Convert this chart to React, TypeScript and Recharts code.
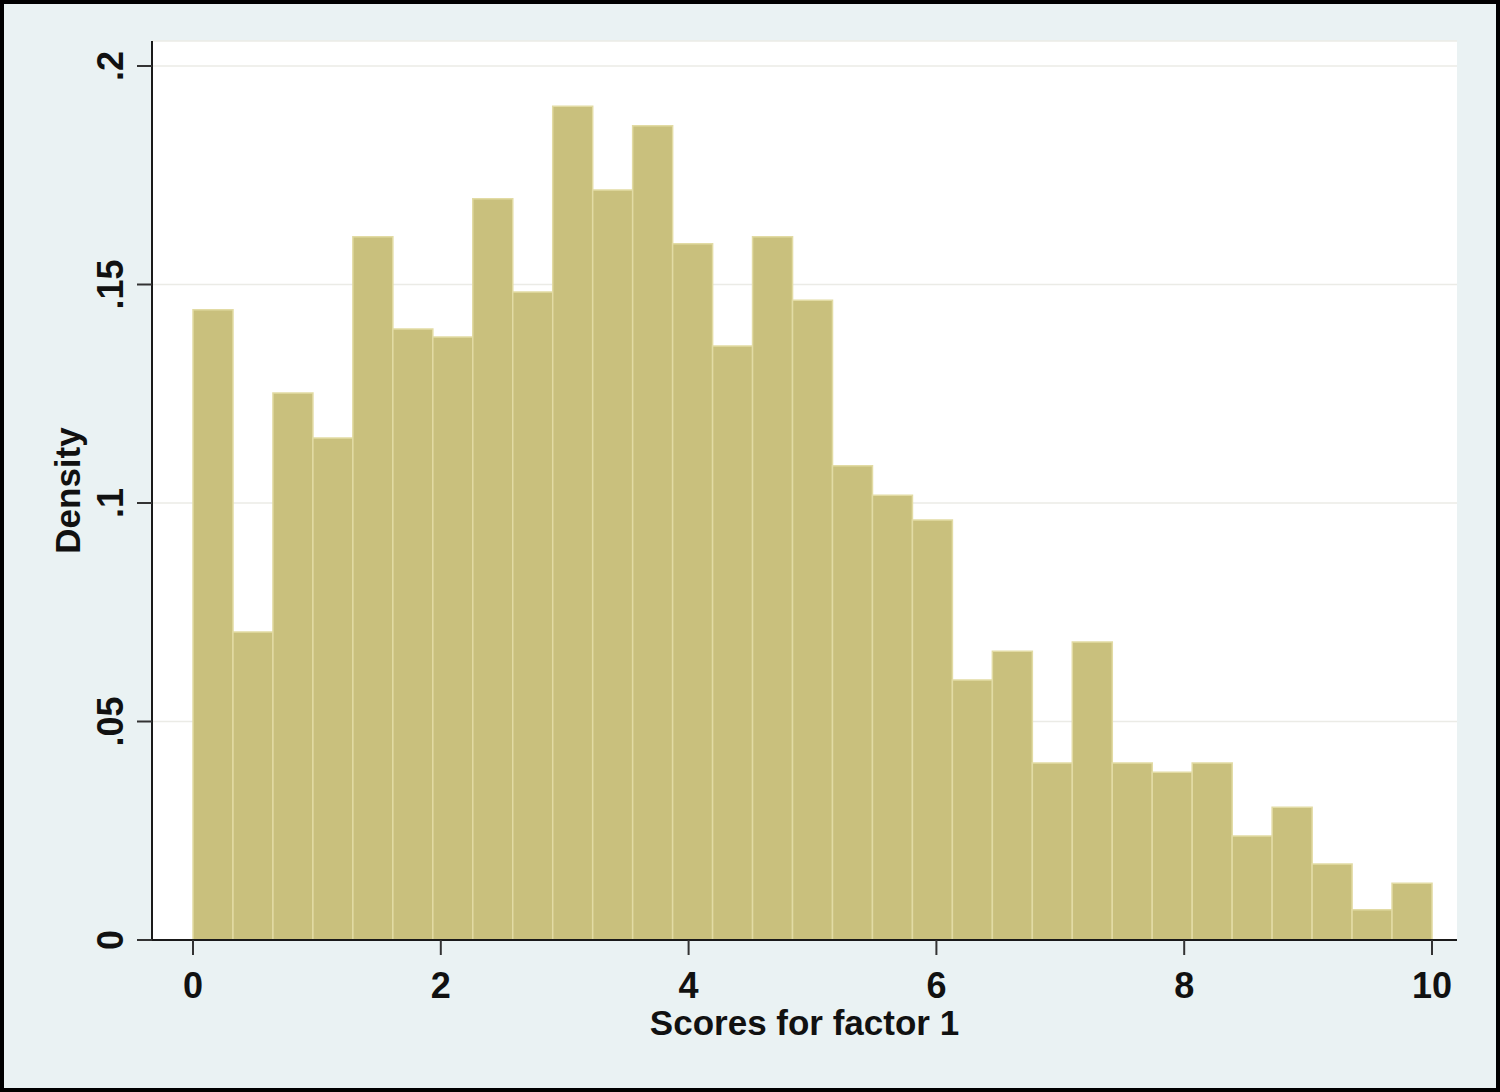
import {
  BarChart,
  Bar,
  XAxis,
  YAxis,
  CartesianGrid,
} from "recharts";

// histogram: 31 equal bins from 0 to 10
const densities = [
  0.1442, 0.0705, 0.1252, 0.1149, 0.1609, 0.1398, 0.138, 0.1696, 0.1483,
  0.1908, 0.1716, 0.1863, 0.1593, 0.1359, 0.1609, 0.1464, 0.1085, 0.1018,
  0.0961, 0.0595, 0.0661, 0.0405, 0.0682, 0.0405, 0.0384, 0.0405, 0.0238,
  0.0304, 0.0174, 0.0069, 0.013,
];

const xTicks = [0, 2, 4, 6, 8, 10];
const yTicks = [0, 0.05, 0.1, 0.15, 0.2];

const xTitle = "Scores for factor 1";
const yTitle = "Density";

const data = densities.map((density, i) => ({ bin: i, density }));

const FONT = "'Liberation Sans', Arial, Helvetica, sans-serif";
const BAR_FILL = "#c9c07d";
const BAR_EDGE = "#e2dba4";

// Stata prints .05 rather than 0.05
const formatY = (v: number) => (v === 0 ? "0" : String(v).replace(/^0/, ""));

const YTick = ({ x, y, payload }: any) => (
  <text
    x={x - 14}
    y={y}
    transform={`rotate(-90, ${x - 14}, ${y})`}
    textAnchor="middle"
    fontFamily={FONT}
    fontWeight="bold"
    fontSize={36}
    fill="#111"
  >
    {formatY(payload.value)}
  </text>
);

const YTitle = ({ viewBox }: any) => {
  const cx = viewBox.x + 76;
  const cy = viewBox.y + viewBox.height / 2;
  return (
    <text
      x={cx}
      y={cy}
      transform={`rotate(-90, ${cx}, ${cy})`}
      textAnchor="middle"
      fontFamily={FONT}
      fontWeight="bold"
      fontSize={35}
      fill="#111"
    >
      {yTitle}
    </text>
  );
};

const XTitle = ({ viewBox }: any) => (
  <text
    x={viewBox.x + viewBox.width / 2}
    y={viewBox.y + 95}
    textAnchor="middle"
    fontFamily={FONT}
    fontWeight="bold"
    fontSize={35}
    fill="#111"
  >
    {xTitle}
  </text>
);

const App = () => {
  return (
    <div
      style={{
        position: "absolute",
        top: 0,
        left: 0,
        width: 1500,
        height: 1092,
        boxSizing: "border-box",
        border: "4px solid #000",
        background: "#eaf2f3",
      }}
    >
      <BarChart
        width={1492}
        height={1084}
        data={data}
        margin={{ top: 37, right: 39, left: 0, bottom: 0 }}
        barCategoryGap={0}
        barGap={0}
      >
        <CartesianGrid
          xAxisId="num"
          vertical={false}
          fill="#ffffff"
          fillOpacity={1}
          stroke="#ebebe6"
          strokeWidth={1.5}
        />
        <XAxis
          xAxisId="bins"
          dataKey="bin"
          type="category"
          hide
          height={0}
          padding={{ left: 41, right: 25 }}
        />
        <XAxis
          xAxisId="num"
          type="number"
          dataKey="bin"
          domain={[0, 10]}
          allowDataOverflow
          ticks={xTicks}
          interval={0}
          height={148}
          padding={{ left: 41, right: 25 }}
          axisLine={{ stroke: "#1a1a1a", strokeWidth: 2 }}
          tickLine={{ stroke: "#333", strokeWidth: 2 }}
          tickSize={15}
          tickMargin={17}
          tick={{
            fontFamily: FONT,
            fontWeight: "bold",
            fontSize: 36,
            fill: "#111",
          }}
          label={<XTitle />}
        />
        <YAxis
          type="number"
          domain={[0, 0.2]}
          ticks={yTicks}
          interval={0}
          width={148}
          padding={{ top: 25 }}
          axisLine={{ stroke: "#1a1a1a", strokeWidth: 2 }}
          tickLine={{ stroke: "#333", strokeWidth: 2 }}
          tickSize={15}
          tickMargin={0}
          tick={<YTick />}
          label={<YTitle />}
        />
        <Bar
          xAxisId="bins"
          dataKey="density"
          fill={BAR_FILL}
          stroke={BAR_EDGE}
          strokeWidth={1.5}
          isAnimationActive={false}
        />
      </BarChart>
    </div>
  );
};

export default App;
